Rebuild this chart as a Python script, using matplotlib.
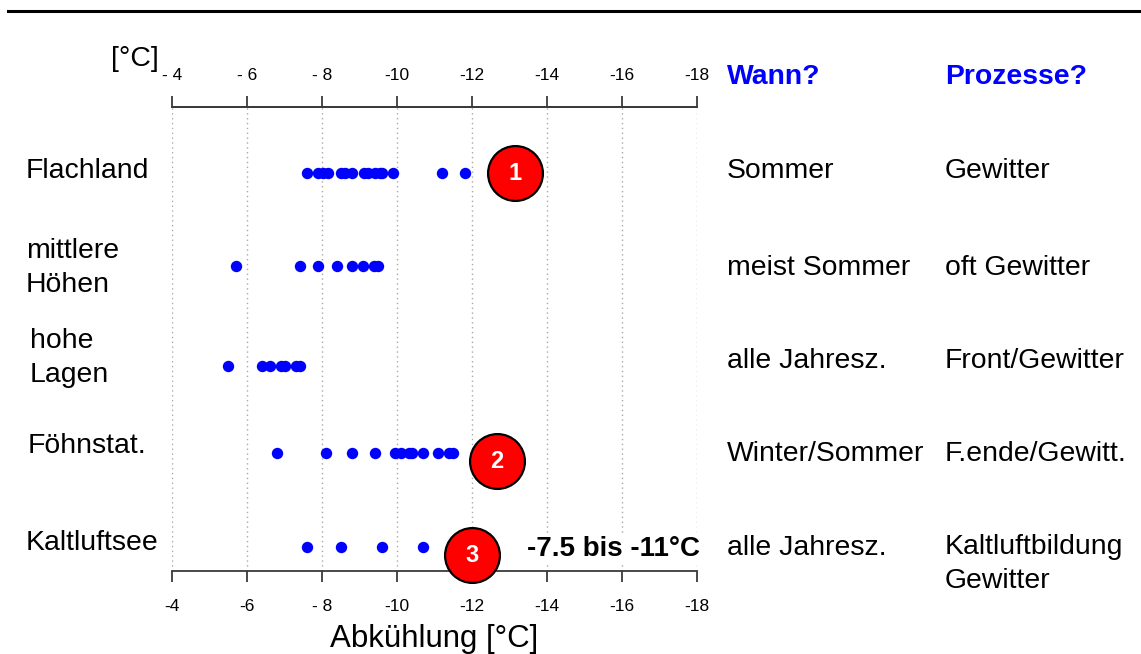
import matplotlib
matplotlib.use("Agg")
import matplotlib.pyplot as plt

plt.rcParams['font.family'] = ['Liberation Sans', 'DejaVu Sans']

# ---- data -------------------------------------------------------------
regions = ['Flachland', 'mittlere\nHöhen', 'hohe\nLagen', 'Föhnstat.', 'Kaltluftsee']
cooling = [
    [-7.6, -7.9, -8.03, -8.17, -8.5, -8.6, -8.79, -9.12, -9.22, -9.41, -9.55, -9.6, -9.9, -11.2, -11.8],
    [-5.7, -7.4, -7.9, -8.4, -8.8, -9.1, -9.38, -9.5],
    [-5.5, -6.4, -6.6, -6.9, -7.0, -7.3, -7.42],
    [-6.8, -8.1, -8.8, -9.4, -9.95, -10.1, -10.33, -10.41, -10.7, -11.1, -11.38, -11.5],
    [-7.6, -8.5, -9.6, -10.7],
]
wann = ['Sommer', 'meist Sommer', 'alle Jahresz.', 'Winter/Sommer', 'alle Jahresz.']
prozesse = ['Gewitter', 'oft Gewitter', 'Front/Gewitter', 'F.ende/Gewitt.', 'Kaltluftbildung\nGewitter']
badge_labels = ['1', '2', '3']
badge_x = [-13.15, -12.66, -11.99]
ticks = [-4, -6, -8, -10, -12, -14, -16, -18]
top_ticklabels = ['- 4', '- 6', '- 8', '-10', '-12', '-14', '-16', '-18']
bottom_ticklabels = ['-4', '-6', '- 8', '-10', '-12', '-14', '-16', '-18']
range_note = '-7.5 bis -11°C'

# ---- layout (pixel units, origin top-left) ----------------------------
W, H = 1141, 654
row_y = [173, 266, 366, 453, 547]
badge_y = [173, 461, 555]
label_x = [26, 26, 30, 28, 26]
label_y = [171, 268.5, 358, 446, 543]
wann_y = [171, 268, 361, 454, 548]
proz_y = [171, 268, 361, 454, 564.5]
ax_left, ax_right, ax_top, ax_bottom = 172, 697, 107, 571
TXT = 20.4


def fx(px):
    return px / W


def fy(py):
    return 1 - py / H


fig = plt.figure(figsize=(W / 100, H / 100), dpi=100)

# horizontal rule across the top
fig.add_artist(plt.Line2D([fx(8), 1], [fy(11), fy(11)], color='black', lw=2.2))

ax = fig.add_axes([fx(ax_left), fy(ax_bottom), (ax_right - ax_left) / W,
                   (ax_bottom - ax_top) / H])
ax.set_xlim(-4, -18)
ax.set_ylim(ax_bottom, ax_top)
for side in ('left', 'right'):
    ax.spines[side].set_visible(False)
for side in ('top', 'bottom'):
    ax.spines[side].set_color('#3a3a3a')
    ax.spines[side].set_linewidth(1.3)
ax.set_yticks([])
ax.set_xticks(ticks)
ax.set_xticklabels(bottom_ticklabels)
ax.tick_params(axis='x', direction='out', length=8, width=1.3, color='#3a3a3a',
               labelsize=12.5, pad=12)
ax.grid(axis='x', linestyle=(0, (1, 2.5)), color='#a8a8a8', lw=1)
ax.set_xlabel('Abkühlung [°C]', fontsize=22.5, labelpad=7)

top = ax.twiny()
top.set_xlim(ax.get_xlim())
top.set_xticks(ticks)
top.set_xticklabels(top_ticklabels)
top.tick_params(axis='x', direction='out', length=8, width=1.3, color='#3a3a3a',
                labelsize=12.5, pad=9)
for side in ('left', 'right', 'bottom'):
    top.spines[side].set_visible(False)
top.spines['top'].set_color('#3a3a3a')
top.spines['top'].set_linewidth(1.3)

# measured cooling values per region
for vals, y in zip(cooling, row_y):
    ax.plot(vals, [y] * len(vals), 'o', color='#0000ff', ms=8.2, mec='none',
            zorder=3, clip_on=False)

# numbered badges
for lab, bx, by in zip(badge_labels, badge_x, badge_y):
    ax.scatter([bx], [by], s=1560, color='#ff0000', edgecolors='black',
               linewidths=1.6, zorder=5, clip_on=False)
    ax.text(bx, by + 1, lab, color='white', fontsize=17, fontweight='bold',
            ha='center', va='center', zorder=6)

ax.text(-18.08, row_y[4] + 2, range_note, fontsize=20, fontweight='bold',
        ha='right', va='center', zorder=4,
        bbox=dict(facecolor='white', edgecolor='none', pad=1))

fig.text(fx(135), fy(59), '[°C]', fontsize=TXT, ha='center', va='center')

# region names on the left
for name, lx, ly in zip(regions, label_x, label_y):
    fig.text(fx(lx), fy(ly), name, fontsize=TXT, ha='left', va='center',
             linespacing=1.4)

# columns on the right
fig.text(fx(727), fy(77), 'Wann?', fontsize=TXT, fontweight='bold',
         color='#0000ff', ha='left', va='center')
fig.text(fx(945), fy(77), 'Prozesse?', fontsize=TXT, fontweight='bold',
         color='#0000ff', ha='left', va='center')
for w, p, wy, py in zip(wann, prozesse, wann_y, proz_y):
    fig.text(fx(727), fy(wy), w, fontsize=TXT, ha='left', va='center')
    fig.text(fx(945), fy(py), p, fontsize=TXT, ha='left', va='center',
             linespacing=1.4)

fig.savefig('out.png', dpi=100)
